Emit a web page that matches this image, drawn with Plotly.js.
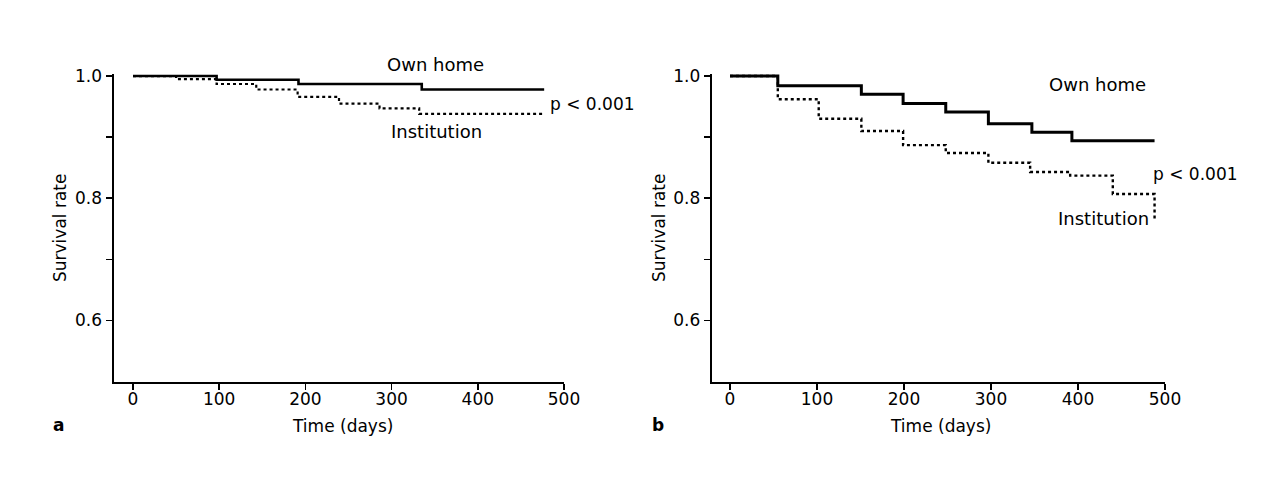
<!DOCTYPE html>
<html>
<head>
<meta charset="utf-8">
<script src="https://cdn.plot.ly/plotly-3.0.1.min.js"></script>
<style>
html, body { margin: 0; padding: 0; background: #ffffff; }
#chart { width: 1273px; height: 481px; }
</style>
</head>
<body>
<div id="chart"></div>
<script>
// ---- Data (Kaplan-Meier step curves) ----
// Panel a
const aOwnDays   = [0, 97, 192, 335, 477];
const aOwnSurv   = [1.0, 0.994, 0.987, 0.978, 0.978];
const aInstDays  = [0, 50, 97, 143, 191, 239, 286, 332, 477];
const aInstSurv  = [1.0, 0.995, 0.987, 0.978, 0.966, 0.955, 0.947, 0.938, 0.938];
// Panel b
const bOwnDays   = [0, 55, 151, 199, 248, 297, 347, 393, 488];
const bOwnSurv   = [1.0, 0.984, 0.970, 0.955, 0.941, 0.922, 0.908, 0.894, 0.894];
const bInstDays  = [0, 55, 102, 151, 199, 248, 297, 345, 391, 440, 488];
const bInstSurv  = [1.0, 0.962, 0.930, 0.910, 0.887, 0.874, 0.858, 0.843, 0.837, 0.807, 0.766];

const xTickVals  = [0, 100, 200, 300, 400, 500];
const yTickVals  = [0.6, 0.7, 0.8, 0.9, 1.0];
const yTickText  = ['0.6', '', '0.8', '', '1.0'];

const seriesNames = ['Own home', 'Institution'];
const pValueText  = 'p < 0.001';
const xTitle      = 'Time (days)';
const yTitle      = 'Survival rate';
const panelLabels = ['a', 'b'];

// ---- Layout helpers ----
const W = 1273, H = 481;
const px = x => x / W;
const py = y => 1 - y / H;
const FONT = 'DejaVu Sans, Liberation Sans, Arial, sans-serif';
const INK = '#000';

const traces = [
  {x: aOwnDays, y: aOwnSurv, xaxis: 'x', yaxis: 'y', mode: 'lines', line: {shape: 'hv', color: INK, width: 2.6}, name: seriesNames[0]},
  {x: aInstDays, y: aInstSurv, xaxis: 'x', yaxis: 'y', mode: 'lines', line: {shape: 'hv', color: INK, width: 2.2, dash: 'dot'}, name: seriesNames[1]},
  {x: bOwnDays, y: bOwnSurv, xaxis: 'x2', yaxis: 'y2', mode: 'lines', line: {shape: 'hv', color: INK, width: 3}, name: seriesNames[0]},
  {x: bInstDays, y: bInstSurv, xaxis: 'x2', yaxis: 'y2', mode: 'lines', line: {shape: 'hv', color: INK, width: 2.4, dash: 'dot'}, name: seriesNames[1]}
];

const yDomain = [py(381.5), py(73.6)];

function xAxis(domain, range, anchor) {
  return {
    domain: domain, range: range, anchor: anchor,
    tickmode: 'array', tickvals: xTickVals,
    ticks: 'outside', ticklen: 6, tickwidth: 1.5, tickcolor: INK,
    ticklabelstandoff: -5,
    showline: true, linecolor: INK, linewidth: 2,
    showgrid: false, zeroline: false,
    tickfont: {family: FONT, size: 17, color: INK},
    fixedrange: true
  };
}
function yAxis(anchor) {
  return {
    domain: yDomain, range: [0.5, 1.004], anchor: anchor,
    tickmode: 'array', tickvals: yTickVals, ticktext: yTickText,
    ticks: 'outside', ticklen: 6, tickwidth: 1.5, tickcolor: INK,
    showline: true, linecolor: INK, linewidth: 2,
    showgrid: false, zeroline: false,
    tickfont: {family: FONT, size: 17, color: INK},
    fixedrange: true
  };
}

function ann(text, x, y, opts) {
  return Object.assign({
    text: text, xref: 'paper', yref: 'paper', x: px(x), y: py(y),
    xanchor: 'center', yanchor: 'middle', showarrow: false,
    font: {family: FONT, size: 17, color: INK}
  }, opts || {});
}

const big = {family: FONT, size: 18, color: INK};

const annotations = [
  // panel a
  ann(seriesNames[0], 435, 64.5, {font: big}),
  ann(pValueText, 548, 104, {xanchor: 'left'}),
  ann(seriesNames[1], 436, 131.5, {font: big}),
  ann(yTitle, 60, 228, {textangle: -90}),
  ann(xTitle, 342, 425.5),
  ann('<b>' + panelLabels[0] + '</b>', 58.5, 425),
  // panel b
  ann(seriesNames[0], 1097.5, 85, {font: big}),
  ann(pValueText, 1150.7, 174, {xanchor: 'left'}),
  ann(seriesNames[1], 1103, 218, {font: big}),
  ann(yTitle, 659, 228, {textangle: -90}),
  ann(xTitle, 940, 426),
  ann('<b>' + panelLabels[1] + '</b>', 657.5, 425)
];

const layout = {
  width: W, height: H,
  margin: {l: 0, r: 0, t: 0, b: 0},
  paper_bgcolor: '#ffffff', plot_bgcolor: 'rgba(0,0,0,0)',
  showlegend: false,
  xaxis: xAxis([px(113.5), px(564)], [-22.6, 500], 'y'),
  yaxis: yAxis('x'),
  xaxis2: xAxis([px(711.7), px(1165)], [-21, 500], 'y2'),
  yaxis2: yAxis('x2'),
  annotations: annotations,
  font: {family: FONT, color: INK}
};

Plotly.newPlot('chart', traces, layout, {staticPlot: true, displayModeBar: false});
</script>
</body>
</html>
